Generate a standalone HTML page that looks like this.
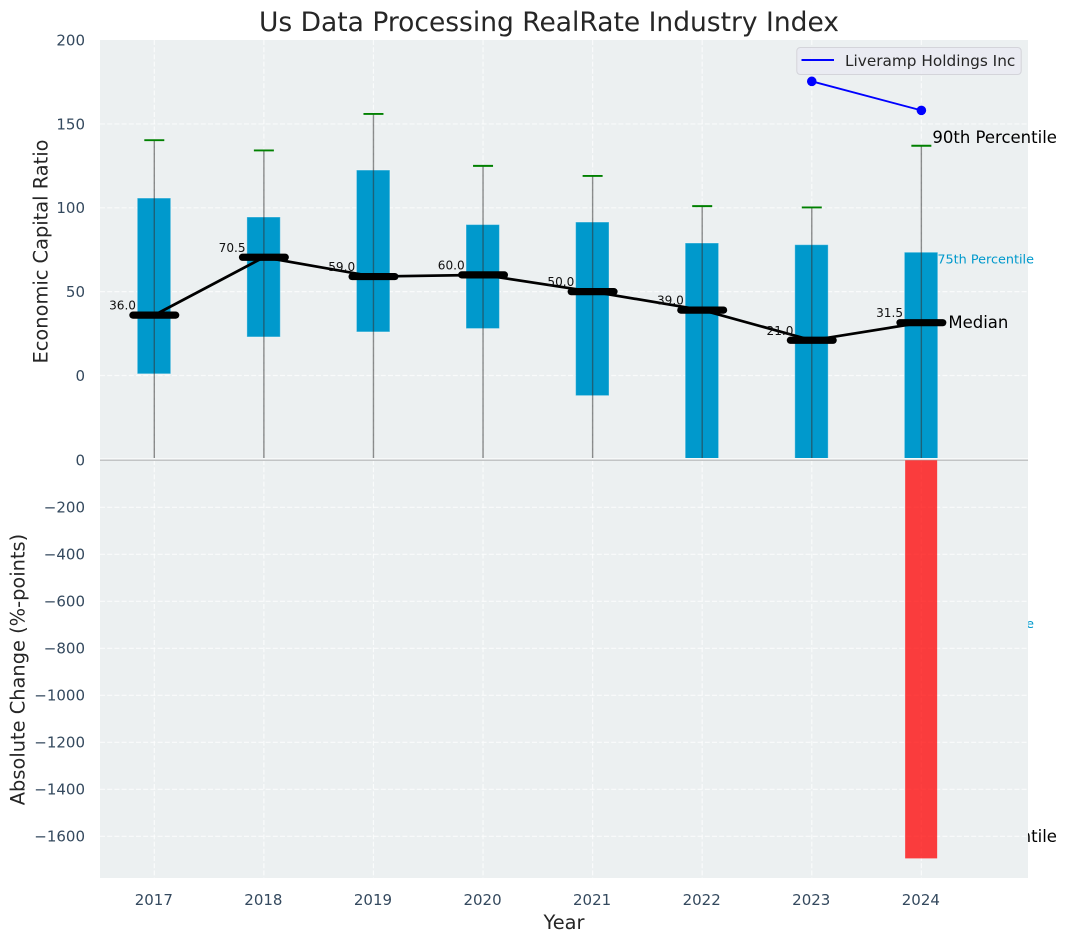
<!DOCTYPE html>
<html lang="en">
<head>
<meta charset="utf-8">
<title>Us Data Processing RealRate Industry Index</title>
<style>
html,body{margin:0;padding:0;background:#fff;}
svg{display:block;font-family:"DejaVu Sans","Liberation Sans",sans-serif;}
</style>
</head>
<body>
<svg id="chart" xmlns="http://www.w3.org/2000/svg" width="1067" height="942" viewBox="0 0 1067 942">
  <defs>
    <clipPath id="clip-top"><rect x="100" y="40" width="928" height="418"/></clipPath>
    <clipPath id="clip-bottom"><rect x="100" y="459.3" width="928" height="418.7"/></clipPath>
  </defs>
  <rect x="100" y="40" width="928" height="418.4" fill="#ecf0f1"/>
  <g id="top-grid"></g>
  <g id="top-marks" clip-path="url(#clip-top)"></g>
  <g id="top-notes"></g>
  <rect x="100" y="459.3" width="928" height="418.7" fill="#ecf0f1"/>
  <g id="bottom-grid"></g>
  <g id="bottom-marks" clip-path="url(#clip-bottom)"></g>
  <g id="axis-labels" fill="#34495e" font-size="15"></g>
  <text x="549" y="31" text-anchor="middle" font-size="26.5" fill="#262626">Us Data Processing RealRate Industry Index</text>
  <text transform="translate(47.5,251.5) rotate(-90)" text-anchor="middle" font-size="19.4" fill="#262626">Economic Capital Ratio</text>
  <text transform="translate(24.5,669.5) rotate(-90)" text-anchor="middle" font-size="19.4" fill="#262626">Absolute Change (%-points)</text>
  <text x="564" y="929" text-anchor="middle" font-size="19.4" fill="#262626">Year</text>
  <g>
    <rect x="796.8" y="47.5" width="224.4" height="27" rx="3.5" fill="#eaeaf2" fill-opacity="0.85" stroke="#d4d4da" stroke-width="1"/>
    <line x1="801.5" y1="60" x2="834" y2="60" stroke="#0000ff" stroke-width="2"/>
    <text x="845" y="66" font-size="15.3" fill="#262626">Liveramp Holdings Inc</text>
  </g>
</svg>
<script>
const years = [2017, 2018, 2019, 2020, 2021, 2022, 2023, 2024];
const p90 = [140.3, 134.2, 156, 125, 119, 101, 100.2, 137];
const p75 = [105.8, 94.5, 122.5, 90, 91.5, 79, 78, 73.5];
const medians = [36.0, 70.5, 59.0, 60.0, 50.0, 39.0, 21.0, 31.5];
const p25 = [1, 23, 26, 28, -12, -70, -90, -148];
const p10 = [-70, -60, -80, -65, -110, -160, -200, -275];
const companyYears = [2023, 2024];
const companyValues = [175.4, 158.1];
const changeYears = [2024];
const changeValues = [-1694];
const topTicks = [200, 150, 100, 50, 0];
const bottomTicks = [0, -200, -400, -600, -800, -1000, -1200, -1400, -1600];

const NS = 'http://www.w3.org/2000/svg';
function xAxis(year) { return 154.3 + (year - 2017) * 109.58; }
function yTop(v) { return 375.5 - v * 1.677; }
function yBottom(v) { return 460.3 - v * 0.235; }
function make(tag, attrs, parent, text) {
  const node = document.createElementNS(NS, tag);
  for (const key in attrs) node.setAttribute(key, attrs[key]);
  if (text !== undefined) node.textContent = text;
  parent.appendChild(node);
  return node;
}
const topGrid = document.getElementById('top-grid');
const bottomGrid = document.getElementById('bottom-grid');
const topMarks = document.getElementById('top-marks');
const topNotes = document.getElementById('top-notes');
const bottomMarks = document.getElementById('bottom-marks');
const tickGroup = document.getElementById('axis-labels');
const gridStyle = { stroke: '#ffffff', 'stroke-width': 1.2, 'stroke-dasharray': '5 2.2', 'stroke-opacity': 0.7 };
const barWidth = 33.4;
const changeWidth = 32;

topTicks.forEach(function (t) {
  if (t !== 200) {
    const g = make('line', Object.assign({ x1: 100, x2: 1028, y1: yTop(t), y2: yTop(t) }, gridStyle), topGrid);
    
    
  }
  const label = make('text', { x: 85, y: yTop(t) + 5.3, 'text-anchor': 'end' }, tickGroup, String(t));
  
  
});

bottomTicks.forEach(function (t) {
  if (t !== 0) {
    const g = make('line', Object.assign({ x1: 100, x2: 1028, y1: yBottom(t), y2: yBottom(t) }, gridStyle), bottomGrid);
    
    
  }
  const label = make('text', { x: 85, y: yBottom(t) + 5.3, 'text-anchor': 'end' }, tickGroup, String(t).replace('-', '\u2212'));
  
  
});

years.forEach(function (year) {
  const x = xAxis(year);
  const g1 = make('line', Object.assign({ x1: x, x2: x, y1: 40, y2: 458 }, gridStyle), topGrid);
  
  
  const g2 = make('line', Object.assign({ x1: x, x2: x, y1: 460, y2: 878 }, gridStyle), bottomGrid);
  
  
  const label = make('text', { x: x - 0.5, y: 905, 'text-anchor': 'middle' }, tickGroup, String(year));
  
  
});

const zeroLine = make('line', { x1: 100, x2: 1028, y1: yBottom(0), y2: yBottom(0), stroke: '#c2c4c5', 'stroke-width': 1.5 }, bottomGrid);



years.forEach(function (year, i) {
  const x = xAxis(year);
  const bar = make('rect', {
    x: x - barWidth / 2 - 0.3,
    y: yTop(p75[i]),
    width: barWidth,
    height: yTop(p25[i]) - yTop(p75[i]),
    fill: '#0099cc',
    stroke: '#ffffff',
    'stroke-opacity': 0.35,
    'stroke-width': 1
  }, topMarks);
  
  
});

years.forEach(function (year, i) {
  const x = xAxis(year);
  const whisker = make('line', { x1: x, x2: x, y1: yTop(p90[i]), y2: yTop(p10[i]), stroke: '#333333', 'stroke-opacity': 0.55, 'stroke-width': 1.4 }, topMarks);
  
  
  const cap = make('line', { x1: x - 10, x2: x + 10, y1: yTop(p90[i]), y2: yTop(p90[i]), stroke: '#008000', 'stroke-width': 1.9 }, topMarks);
  
  
});

const medianPath = make('polyline', {
  points: years.map(function (year, i) { return xAxis(year) + ',' + yTop(medians[i]); }).join(' '),
  fill: 'none', stroke: '#000000', 'stroke-width': 2.7
}, topMarks);



years.forEach(function (year, i) {
  const x = xAxis(year);
  const med = make('line', { x1: x - 21.4, x2: x + 21.4, y1: yTop(medians[i]), y2: yTop(medians[i]), stroke: '#000000', 'stroke-width': 7.2, 'stroke-linecap': 'round' }, topMarks);
  
  
  const label = make('text', { x: x - 18.3, y: yTop(medians[i]) - 5.5, 'text-anchor': 'end', 'font-size': 12.1, fill: '#111111' }, topNotes, medians[i].toFixed(1));
  
  
});

const companyLine = make('polyline', {
  points: companyYears.map(function (year, i) { return xAxis(year) + ',' + yTop(companyValues[i]); }).join(' '),
  fill: 'none', stroke: '#0000ff', 'stroke-width': 1.9
}, topMarks);



companyYears.forEach(function (year, i) {
  const dot = make('circle', { cx: xAxis(year), cy: yTop(companyValues[i]), r: 4.8, fill: '#0000ff' }, topMarks);
  
  
});

const lastIndex = years.length - 1;
const lastX = xAxis(years[lastIndex]);
const n90 = make('text', { x: lastX + 11, y: yTop(p90[lastIndex]) - 2.8, 'font-size': 16.5, fill: '#000000' }, topNotes, '90th Percentile');


const n75 = make('text', { x: lastX + 16, y: yTop(p75[lastIndex]) + 11.5, 'font-size': 12.8, fill: '#0099cc' }, topNotes, '75th Percentile');


const n50 = make('text', { x: lastX + 27, y: yTop(medians[lastIndex]) + 5.5, 'font-size': 16.5, fill: '#000000' }, topNotes, 'Median');


const n25 = make('text', { x: lastX + 16, y: yTop(p25[lastIndex]) + 4.5, 'font-size': 12.8, fill: '#0099cc' }, topNotes, '25th Percentile');


const n10 = make('text', { x: lastX + 11, y: yTop(p10[lastIndex]) + 5.5, 'font-size': 16.5, fill: '#000000' }, topNotes, '10th Percentile');



changeYears.forEach(function (year, i) {
  const x = xAxis(year);
  const change = make('rect', {
    x: x - changeWidth / 2 - 0.2,
    y: yBottom(0),
    width: changeWidth,
    height: yBottom(changeValues[i]) - yBottom(0),
    fill: '#ff0000',
    'fill-opacity': 0.75
  }, bottomMarks);
  
  
});
</script>
</body>
</html>
